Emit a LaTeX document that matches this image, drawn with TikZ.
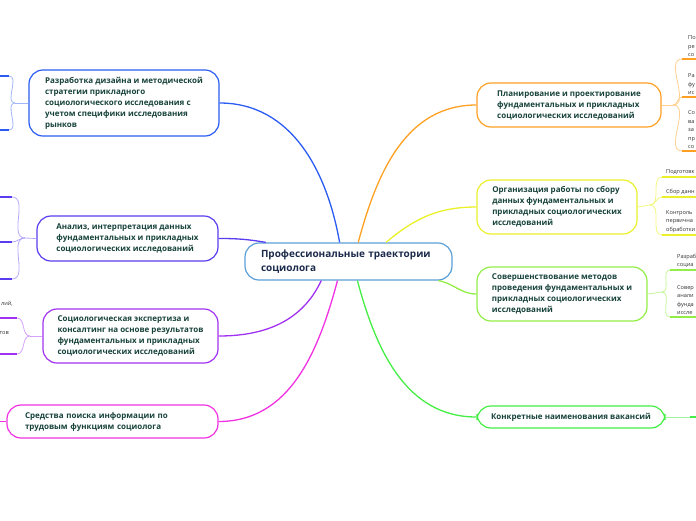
\documentclass[tikz,border=0pt]{standalone}
\usepackage{fontspec}
\setmainfont{Open Sans}
\usepackage{tikz}
\definecolor{topicink}{HTML}{17433A}
\definecolor{rootink}{HTML}{1C2B4B}
\definecolor{rootline}{HTML}{5A9FD6}
\definecolor{designc}{HTML}{2B5CF2}
\definecolor{analysc}{HTML}{5B3CF0}
\definecolor{expertc}{HTML}{A232F2}
\definecolor{searchc}{HTML}{F032E2}
\definecolor{planc}{HTML}{FFA022}
\definecolor{organc}{HTML}{EAF02A}
\definecolor{methodc}{HTML}{92EE46}
\definecolor{vacanc}{HTML}{44EE44}

\begin{document}
\begin{tikzpicture}[x=1pt, y=1pt,
  topic/.style={draw, line width=1.2pt, rounded corners=14pt, fill=white, align=left,
    font=\fontsize{8}{11}\selectfont\bfseries, text=topicink, inner ysep=0pt, inner xsep=0pt},
  root/.style={topic, draw=rootline, text=rootink, font=\fontsize{10}{13.5}\selectfont\bfseries},
  branch/.style={line width=1.3pt},
  twig/.style={line width=0.8pt},
  bar/.style={line width=1.8pt},
  leaf/.style={font=\fontsize{5.6}{8.5}\selectfont, text=black!80, align=left, inner sep=0pt}]
  \useasboundingbox (0,0) rectangle (696,-520);
  \clip (0,0) rectangle (696,-520);
  % central topic
  \node[root, text width=175pt, inner xsep=16pt, minimum height=37pt] (root) at (348.5,-261.5)
    {Профессиональные траектории\\социолога};
  % left topics
  \node[topic, draw=designc, minimum width=190pt, minimum height=66pt] (design) at (124,-103)
    {Разработка дизайна и методической\\стратегии прикладного\\социологического исследования с\\учетом специфики исследования\\рынков};
  \node[topic, draw=analysc, minimum width=181pt, minimum height=45pt] (analys) at (127.5,-238.5)
    {Анализ, интерпретация данных\\фундаментальных и прикладных\\социологических исследований};
  \node[topic, draw=expertc, minimum width=175pt, minimum height=54pt] (expert) at (130.5,-336)
    {Социологическая экспертиза и\\консалтинг на основе результатов\\фундаментальных и прикладных\\социологических исследований};
  \node[topic, draw=searchc, text width=175pt, inner xsep=18pt, minimum height=33pt] (search) at (112.5,-421.5)
    {Средства поиска информации по\\трудовым функциям социолога};
  % right topics
  \node[topic, draw=planc, minimum width=184pt, minimum height=44pt] (plan) at (569,-105)
    {Планирование и проектирование\\фундаментальных и прикладных\\социологических исследований};
  \node[topic, draw=organc, minimum width=160pt, minimum height=54pt] (organ) at (557,-207)
    {Организация работы по сбору\\данных фундаментальных и\\прикладных социологических\\исследований};
  \node[topic, draw=methodc, minimum width=170pt, minimum height=54pt] (method) at (562,-294)
    {Совершенствование методов\\проведения фундаментальных и\\прикладных социологических\\исследований};
  \node[topic, draw=vacanc, minimum width=188pt, minimum height=22pt] (vacan) at (571,-417)
    {Конкретные наименования вакансий};

  % branches from the centre
  \draw[branch, designc] (root.115) to[out=100, in=0] (design.east);
  \draw[branch, analysc] (root.167) to[out=170, in=0] (analys.east);
  \draw[branch, expertc] (root.215) to[out=245, in=0] (expert.east);
  \draw[branch, searchc] (root.240) to[out=255, in=0] (search.east);
  \draw[branch, planc] (root.63) to[out=75, in=180] (plan.west);
  \draw[branch, organc] (root.27) to[out=40, in=180] (organ.west);
  \draw[branch, methodc] (root.-12) to[out=-10, in=180] (method.west);
  \draw[branch, vacanc] (root.-65) to[out=-75, in=180] (vacan.west);

  % design: two cut-off subtopics
  \coordinate (dj) at (15,-103);
  \coordinate (d1) at (9,-76);
  \coordinate (d2) at (9,-130);
  \draw[twig, designc!45] (design.west) -- (dj);
  \draw[twig, designc!45] (dj) to[out=180, in=0] (d1);
  \draw[twig, designc!45] (dj) to[out=180, in=0] (d2);
  \draw[bar, designc] (d1) -- ++(-9,0);
  \draw[bar, designc] (d2) -- ++(-9,0);
  % analysis: three subtopics
  \coordinate (aj) at (25,-238);
  \coordinate (a1) at (12,-197);
  \coordinate (a2) at (12,-242);
  \coordinate (a3) at (12,-279);
  \draw[twig, analysc!45] (analys.west) -- (aj);
  \draw[twig, analysc!45] (aj) to[out=180, in=0] (a1);
  \draw[twig, analysc!45] (aj) to[out=180, in=0] (a2);
  \draw[twig, analysc!45] (aj) to[out=180, in=0] (a3);
  \draw[bar, analysc] (a1) -- ++(-12,0);
  \draw[bar, analysc] (a2) -- ++(-12,0);
  \draw[bar, analysc] (a3) -- ++(-12,0);
  % expertise: two subtopics
  \coordinate (ej) at (30,-336);
  \coordinate (e1) at (17,-318);
  \coordinate (e2) at (17,-354);
  \draw[twig, expertc!45] (expert.west) -- (ej);
  \draw[twig, expertc!45] (ej) to[out=180, in=0] (e1);
  \draw[twig, expertc!45] (ej) to[out=180, in=0] (e2);
  \draw[bar, expertc] (e1) -- ++(-17,0);
  \draw[bar, expertc] (e2) -- ++(-17,0);
  \node[leaf, anchor=base east] (et1) at (13,-305) {лий,};
  \node[leaf, anchor=base east] (et2) at (9,-334) {тов};
  % search
  \draw[bar, searchc] (search.west) -- ++(-8,0);

  % planning: three subtopics
  \coordinate (pj) at (673,-105);
  \coordinate (p1) at (682,-59);
  \coordinate (p2) at (682,-97);
  \coordinate (p3) at (682,-151);
  \draw[twig, planc!50] (plan.east) -- (pj);
  \draw[twig, planc!50] (pj) to[out=0, in=180] (p1);
  \draw[twig, planc!50] (pj) to[out=0, in=180] (p2);
  \draw[twig, planc!50] (pj) to[out=0, in=180] (p3);
  \draw[bar, planc] (p1) -- ++(14,0);
  \draw[bar, planc] (p2) -- ++(14,0);
  \draw[bar, planc] (p3) -- ++(14,0);
  \node[leaf, anchor=south west] (pt1) at (688,-57) {По\\ре\\со};
  \node[leaf, anchor=south west] (pt2) at (688,-95) {Ра\\фу\\ис};
  \node[leaf, anchor=south west] (pt3) at (688,-149) {Со\\ва\\за\\пр\\со};
  % organisation: three subtopics
  \coordinate (oj) at (650,-205);
  \coordinate (o1) at (662,-177);
  \coordinate (o2) at (662,-197);
  \coordinate (o3) at (662,-235);
  \draw[twig, organc!60] (organ.east) -- (oj);
  \draw[twig, organc!60] (oj) to[out=0, in=180] (o1);
  \draw[twig, organc!60] (oj) to[out=0, in=180] (o2);
  \draw[twig, organc!60] (oj) to[out=0, in=180] (o3);
  \draw[bar, organc] (o1) -- ++(34,0);
  \draw[bar, organc] (o2) -- ++(34,0);
  \draw[bar, organc] (o3) -- ++(34,0);
  \node[leaf, anchor=south west] (ot1) at (666,-175) {Подготовк};
  \node[leaf, anchor=south west] (ot2) at (666,-195) {Сбор данн};
  \node[leaf, anchor=south west] (ot3) at (666,-233) {Контроль\\первична\\обработки};
  % methods: two subtopics
  \coordinate (mj) at (662,-292);
  \coordinate (m1) at (670,-270);
  \coordinate (m2) at (670,-317);
  \draw[twig, methodc!55] (method.east) -- (mj);
  \draw[twig, methodc!55] (mj) to[out=0, in=180] (m1);
  \draw[twig, methodc!55] (mj) to[out=0, in=180] (m2);
  \draw[bar, methodc] (m1) -- ++(26,0);
  \draw[bar, methodc] (m2) -- ++(26,0);
  \node[leaf, anchor=south west] (mt1) at (677,-268) {Разраб\\социа};
  \node[leaf, anchor=south west] (mt2) at (677,-315) {Совер\\анали\\фунда\\иссле};
  % vacancies
  \coordinate (v1) at (690,-417);
  \draw[twig, vacanc!50] (vacan.east) -- (v1);
  \draw[bar, vacanc] (v1) -- ++(6,0);
\end{tikzpicture}
\end{document}
